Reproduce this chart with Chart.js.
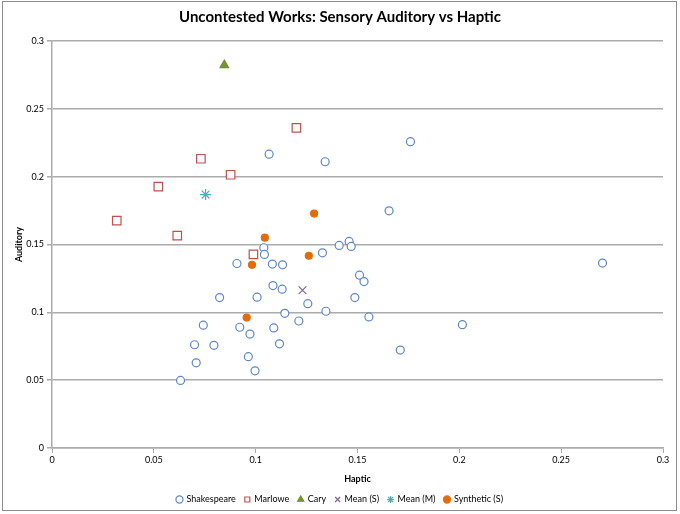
<!DOCTYPE html>
<html>
<head>
<meta charset="utf-8">
<script src="https://cdn.jsdelivr.net/npm/chart.js@4"></script>
<style>
html, body { margin: 0; padding: 0; background: #fff; }
#wrap { width: 680px; height: 514px; position: relative; }
#frame { position: absolute; left: 2px; top: 1px; right: 3px; bottom: 3px; border: 1px solid #8c8c8c; pointer-events: none; }
</style>
</head>
<body>
<div id="wrap"><canvas id="chart"></canvas><div id="frame"></div></div>
<script>
// values as [haptic, auditory]
var shakespeare = [
    [0.1066, 0.2166], [0.176, 0.2258], [0.1341, 0.2110], [0.1655, 0.1748],
    [0.1459, 0.1523], [0.141, 0.1493], [0.1469, 0.1486], [0.104, 0.1476],
    [0.1043, 0.1427], [0.1328, 0.1439], [0.0908, 0.1360], [0.1082, 0.1356],
    [0.1132, 0.1350], [0.151, 0.1274], [0.1532, 0.1227], [0.1085, 0.1197],
    [0.113, 0.1171], [0.0823, 0.1109], [0.1007, 0.1112], [0.1487, 0.1109],
    [0.1256, 0.1064], [0.1345, 0.1008], [0.1143, 0.0993], [0.1556, 0.0966],
    [0.1212, 0.0936], [0.2015, 0.0909], [0.0743, 0.0905], [0.0922, 0.0890],
    [0.1089, 0.0885], [0.0972, 0.0840], [0.070, 0.0761], [0.0795, 0.0757],
    [0.1117, 0.0768], [0.171, 0.0722], [0.0964, 0.0673], [0.0708, 0.0628],
    [0.0997, 0.0569], [0.0631, 0.0498], [0.2703, 0.1363]
];
var marlowe = [
    [0.120, 0.2359], [0.0731, 0.2132], [0.0877, 0.2014], [0.0522, 0.1927],
    [0.0318, 0.1676], [0.0615, 0.1565], [0.0989, 0.1427]
];
var cary = [[0.0846, 0.2822]];
var meanS = [[0.123, 0.1163]];
var meanM = [[0.0754, 0.1868]];
var synthetic = [
    [0.1045, 0.155], [0.1287, 0.1728], [0.1261, 0.1417], [0.0982, 0.1350], [0.0956, 0.0961]
];
var axisTicks = [0, 0.05, 0.1, 0.15, 0.2, 0.25, 0.3];

function pts(list){
    return list.map(function(p){ return {x: p[0], y: p[1]}; });
}

var font = "Lato, 'Open Sans', sans-serif";
var gridGray = "#ababab";

function set(label, list, style, radius, border, fill){
    return {
        label: label,
        data: pts(list),
        pointStyle: style,
        pointRadius: radius,
        pointHoverRadius: radius,
        pointBorderWidth: 1.2,
        borderColor: border,
        backgroundColor: fill,
        pointBorderColor: border,
        pointBackgroundColor: fill
    };
}

function fixedTicks(scale){
    scale.ticks = axisTicks.map(function(v){ return {value: v}; });
}
function tickText(v){
    return String(Math.round(v * 100) / 100);
}

var ctx = document.getElementById("chart");
new Chart(ctx, {
    type: "scatter",
    data: {
        datasets: [
            set("Shakespeare", shakespeare, "circle", 4, "#5f87c4", "#ffffff"),
            set("Marlowe", marlowe, "rect", 6, "#c0504d", "#ffffff"),
            set("Cary", cary, "triangle", 5, "#6f9332", "#77933c"),
            set("Mean (S)", meanS, "crossRot", 5.5, "#8064a2", "#8064a2"),
            set("Mean (M)", meanM, "star", 5.5, "#4bacc6", "#4bacc6"),
            set("Synthetic (S)", synthetic, "circle", 3.5, "#e36c0a", "#e36c0a")
        ]
    },
    options: {
        responsive: true,
        maintainAspectRatio: false,
        animation: false,
        layout: { padding: 0 },
        plugins: {
            title: {
                display: true,
                text: "Uncontested Works: Sensory Auditory vs Haptic",
                color: "#000",
                font: { family: font, size: 15, weight: "bold" },
                padding: { top: 8, bottom: 15 }
            },
            legend: {
                position: "bottom",
                labels: {
                    usePointStyle: true,
                    boxWidth: 5,
                    boxHeight: 5,
                    padding: 9,
                    color: "#000",
                    font: { family: font, size: 9 }
                }
            },
            tooltip: { enabled: false }
        },
        scales: {
            x: {
                type: "linear",
                min: 0,
                max: 0.3,
                afterBuildTicks: fixedTicks,
                afterFit: function(scale){ scale.height = 38; },
                ticks: { color: "#000", font: { family: font, size: 9 }, padding: 2, maxRotation: 0, callback: tickText },
                grid: { drawOnChartArea: false, color: gridGray, tickLength: 5 },
                border: { color: gridGray, width: 1.5 },
                title: { display: true, text: "Haptic", color: "#000", font: { family: font, size: 9, weight: "bold" }, padding: { top: 4, bottom: 2 } }
            },
            y: {
                type: "linear",
                min: 0,
                max: 0.3,
                afterBuildTicks: fixedTicks,
                afterFit: function(scale){ scale.width = 52; },
                ticks: { color: "#000", font: { family: font, size: 9 }, padding: 3, callback: tickText },
                grid: { color: gridGray, lineWidth: 1.5, tickLength: 5 },
                border: { color: gridGray, width: 1.5 },
                title: { display: true, text: "Auditory", color: "#000", font: { family: font, size: 9, weight: "bold" }, padding: { top: 14, bottom: 0 } }
            },
            // empty axis on the right that only keeps the right margin
            yRight: {
                type: "linear",
                position: "right",
                min: 0,
                max: 0.3,
                afterFit: function(scale){ scale.width = 17; },
                ticks: { display: false },
                grid: { display: false },
                border: { display: false }
            }
        }
    }
});
</script>
</body>
</html>
